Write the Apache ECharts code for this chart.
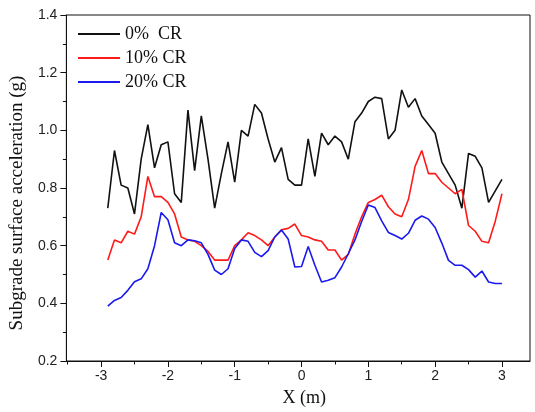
<!DOCTYPE html>
<html>
<head>
<meta charset="utf-8">
<script src="https://cdn.jsdelivr.net/npm/echarts@6/dist/echarts.min.js"></script>
<style>
  html, body { margin: 0; padding: 0; background: #fff; }
  #chart { width: 535px; height: 412px; }
</style>
</head>
<body>
<div id="chart"></div>
<script>
// Position along the section (m)
const xPositions = [
  -2.9, -2.8, -2.7, -2.6, -2.5, -2.4, -2.3, -2.2, -2.1, -2.0,
  -1.9, -1.8, -1.7, -1.6, -1.5, -1.4, -1.3, -1.2, -1.1, -1.0,
  -0.9, -0.8, -0.7, -0.6, -0.5, -0.4, -0.3, -0.2, -0.1, 0.0,
   0.1,  0.2,  0.3,  0.4,  0.5,  0.6,  0.7,  0.8,  0.9, 1.0,
   1.1,  1.2,  1.3,  1.4,  1.5,  1.6,  1.7,  1.8,  1.9, 2.0,
   2.1,  2.2,  2.3,  2.4,  2.5,  2.6,  2.7,  2.8,  2.9, 3.0
];

// Subgrade surface acceleration (g) for each CR content
const accel0 = [
  0.73, 0.93, 0.81, 0.80, 0.71, 0.90, 1.02, 0.87, 0.95, 0.96,
  0.78, 0.75, 1.07, 0.86, 1.05, 0.90, 0.73, 0.85, 0.96, 0.82,
  1.00, 0.98, 1.09, 1.06, 0.97, 0.89, 0.94, 0.83, 0.81, 0.81,
  0.97, 0.84, 0.99, 0.95, 0.98, 0.96, 0.90, 1.03, 1.06, 1.10,
  1.115, 1.11, 0.97, 1.00, 1.14, 1.08, 1.11, 1.05, 1.02, 0.99,
  0.89, 0.85, 0.81, 0.73, 0.92, 0.91, 0.87, 0.75, 0.79, 0.83
];
const accel10 = [
  0.55, 0.62, 0.61, 0.65, 0.64, 0.70, 0.84, 0.77, 0.77, 0.75,
  0.71, 0.63, 0.62, 0.615, 0.60, 0.58, 0.55, 0.55, 0.55, 0.60,
  0.62, 0.645, 0.635, 0.62, 0.60, 0.63, 0.655, 0.66, 0.675, 0.635,
  0.63, 0.62, 0.615, 0.585, 0.585, 0.55, 0.57, 0.64, 0.70, 0.75,
  0.76, 0.775, 0.735, 0.71, 0.70, 0.76, 0.875, 0.93, 0.85, 0.85,
  0.82, 0.80, 0.78, 0.795, 0.67, 0.65, 0.615, 0.61, 0.685, 0.78
];
const accel20 = [
  0.39, 0.41, 0.42, 0.445, 0.475, 0.485, 0.52, 0.60, 0.715, 0.69,
  0.61, 0.60, 0.62, 0.617, 0.61, 0.57, 0.515, 0.50, 0.52, 0.59,
  0.62, 0.615, 0.577, 0.562, 0.583, 0.63, 0.654, 0.623, 0.526, 0.528,
  0.597, 0.532, 0.474, 0.48, 0.489, 0.526, 0.572, 0.62, 0.684, 0.741,
  0.732, 0.686, 0.646, 0.635, 0.623, 0.643, 0.688, 0.703, 0.692, 0.663,
  0.609, 0.549, 0.532, 0.532, 0.517, 0.491, 0.512, 0.474, 0.469, 0.469
];

const seriesNames = ['0%  CR', '10% CR', '20% CR'];
const seriesColors = ['#111111', '#ff1a1a', '#1a1aee'];

// Axis tick positions
const xMajorTicks = [-3, -2, -1, 0, 1, 2, 3];
const xMinorTicks = [-3.5, -2.5, -1.5, -0.5, 0.5, 1.5, 2.5];

const pairs = ys => xPositions.map((x, i) => [x, ys[i]]);
const serif = '"Liberation Serif", "Times New Roman", serif';
const sans = '"Liberation Sans", Arial, sans-serif';
const xMin = -3.52, xMax = 3.42;

const chart = echarts.init(document.getElementById('chart'), null, { renderer: 'canvas' });
chart.setOption({
  animation: false,
  backgroundColor: '#ffffff',
  grid: {
    left: 63, top: 15, right: 5, bottom: 47,
    show: true, borderColor: '#111', borderWidth: 1, backgroundColor: 'transparent'
  },
  legend: {
    orient: 'vertical',
    left: 73, top: 20,
    itemWidth: 42, itemHeight: 14, itemGap: 6,
    icon: 'path://M0,6 L42,6 L42,8 L0,8 Z',
    data: seriesNames,
    textStyle: { fontFamily: serif, fontSize: 18, color: '#111', lineHeight: 18 }
  },
  xAxis: [
    {
      type: 'value', min: xMin, max: xMax, position: 'bottom',
      name: 'X (m)', nameLocation: 'middle', nameGap: 28,
      nameTextStyle: { fontFamily: serif, fontSize: 18, color: '#111', padding: [0, 0, 0, 12] },
      axisLine: { show: true, onZero: false, lineStyle: { color: '#111', width: 1 } },
      axisTick: { show: true, inside: false, length: 6, customValues: xMajorTicks, lineStyle: { color: '#111' } },
      axisLabel: { customValues: xMajorTicks, margin: 8, fontFamily: sans, fontSize: 14, color: '#222' },
      splitLine: { show: false }
    },
    {
      type: 'value', min: xMin, max: xMax, position: 'bottom',
      axisLine: { show: false, onZero: false },
      axisTick: { show: true, inside: false, length: 3.5, customValues: xMinorTicks, lineStyle: { color: '#111' } },
      axisLabel: { show: false },
      splitLine: { show: false }
    }
  ],
  yAxis: {
    type: 'value', min: 0.2, max: 1.4, interval: 0.2, position: 'left',
    name: 'Subgrade surface acceleration (g)', nameLocation: 'middle', nameGap: 30,
    nameTextStyle: { fontFamily: serif, fontSize: 19, color: '#111', padding: [0, 30, 0, 0] },
    axisLine: { show: true, onZero: false, lineStyle: { color: '#111', width: 1 } },
    axisTick: { show: true, inside: false, length: 6, lineStyle: { color: '#111' } },
    minorTick: { show: true, splitNumber: 2, length: 3.5, lineStyle: { color: '#111' } },
    axisLabel: { margin: 9, fontFamily: sans, fontSize: 14, color: '#222', formatter: v => v.toFixed(1) },
    splitLine: { show: false }
  },
  series: [accel0, accel10, accel20].map((ys, i) => ({
    name: seriesNames[i],
    type: 'line',
    xAxisIndex: 0,
    data: pairs(ys),
    showSymbol: false,
    symbol: 'none',
    color: seriesColors[i],
    lineStyle: { color: seriesColors[i], width: 1.6 }
  }))
});
</script>
</body>
</html>
